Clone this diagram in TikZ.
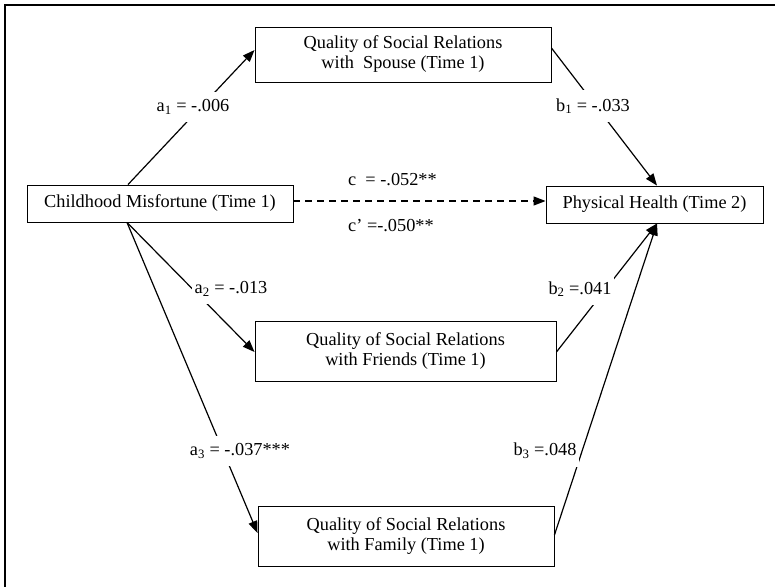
\documentclass[tikz,border=0pt]{standalone}
\usepackage{fontspec}
\setmainfont{Liberation Serif}
\usetikzlibrary{arrows.meta}

\begin{document}
\begin{tikzpicture}[x = 1pt, y = -1pt, >= {Triangle[length=12pt,width=9pt]},
    font = \fontsize{18.3}{20}\selectfont,
    box/.style = {draw, line width = 0.9pt, align = center, inner sep = 0pt},
    path/.style = {line width = 1.2pt, ->},
    coef/.style = {fill = white, inner xsep = 3pt, inner ysep = 8pt}]
        \useasboundingbox (0, 0) rectangle (775, 586);
        \clip (0, 0) rectangle (775, 586);
        \draw[line width = 1.3pt] (5, 5) rectangle (790, 600);
        % the five variables
        \node[box, minimum width = 296pt, minimum height = 55pt] (spouse) at (403, 54.5) {Quality of Social Relations\\with\ \ Spouse (Time 1)};
        \node[box, minimum width = 266pt, minimum height = 37pt] (child) at (160, 203.5) {Childhood Misfortune (Time 1)};
        \node[box, minimum width = 217pt, minimum height = 37pt] (health) at (654.5, 204.5) {Physical Health (Time 2)};
        \node[box, minimum width = 301pt, minimum height = 60pt] (friends) at (405.5, 351) {Quality of Social Relations\\with Friends (Time 1)};
        \node[box, minimum width = 296pt, minimum height = 60pt] (family) at (406, 536) {Quality of Social Relations\\with Family (Time 1)};
        % paths
        \draw[path] ([xshift = -32pt]child.north) -- ([yshift = 4.5pt]spouse.west);
        \draw[path] ([yshift = 6.5pt]spouse.east) -- ([xshift = 2.5pt]health.north);
        \draw[path, dash pattern = on 7pt off 5pt] ([yshift = 2.5pt]child.east) -- ([yshift = 3.5pt]health.west);
        \draw[path] ([xshift = -33pt]child.south) -- ([yshift = -1pt]friends.west);
        \draw[path] ([xshift = -33pt]child.south) -- ([yshift = 3pt]family.west);
        \draw[path] ([yshift = -1pt]friends.east) -- ([xshift = 2.5pt]health.south);
        \draw[path] ([yshift = 1pt]family.east) -- ([xshift = 2.5pt]health.south);
        % coefficients
        \node[coef] (a1) at (193, 107) {a\textsubscript{1} = -.006};
        \node[coef] (b1) at (593, 106) {b\textsubscript{1} = -.033};
        \node[coef] (a2) at (231, 289) {a\textsubscript{2} = -.013};
        \node[coef] (b2) at (580, 289) {b\textsubscript{2} =.041};
        \node[coef] (a3) at (240, 451) {a\textsubscript{3} = -.037***};
        \node[coef] (b3) at (545, 451) {b\textsubscript{3} =.048};
        \node[anchor = west, inner sep = 0pt] (c) at (348, 180) {c\ \ = -.052**};
        \node[anchor = west, inner sep = 0pt] (cp) at (348, 226) {c’ =-.050**};
\end{tikzpicture}
\end{document}
